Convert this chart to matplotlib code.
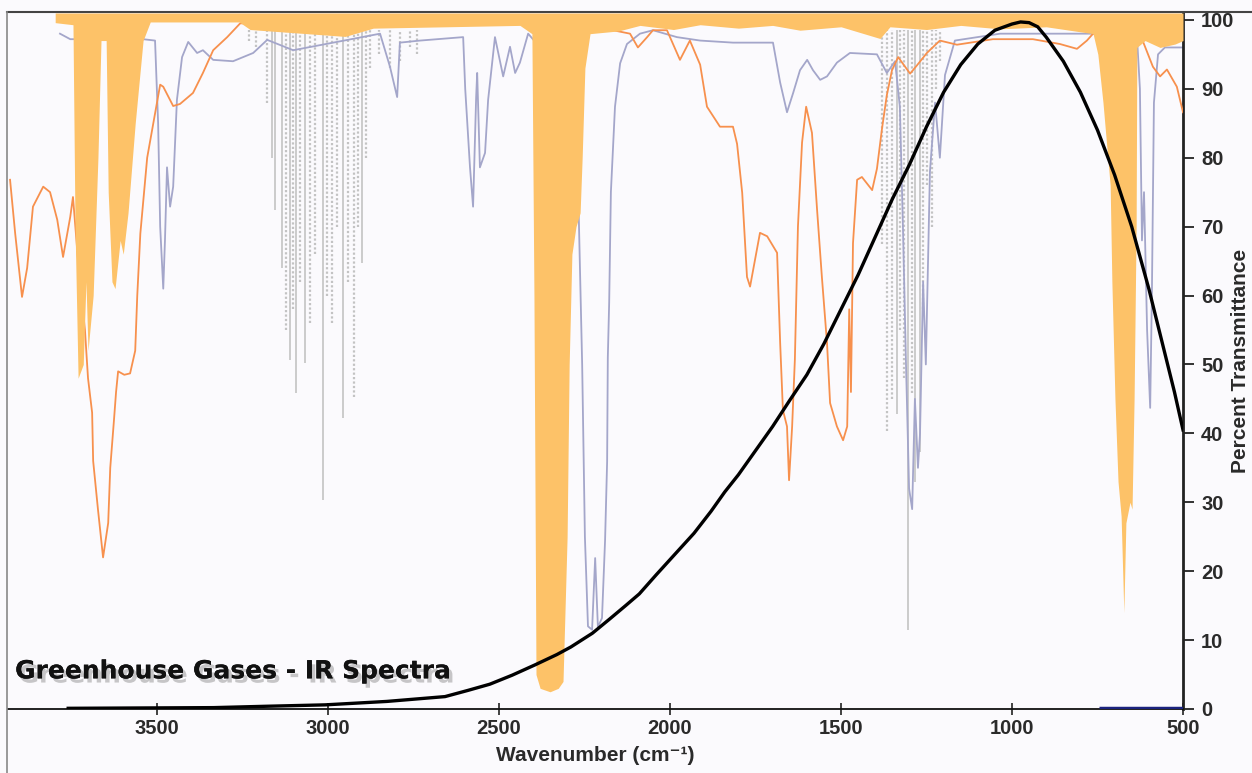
import matplotlib
matplotlib.use("Agg")
import matplotlib.pyplot as plt
import matplotlib.patheffects as pe
from matplotlib.lines import Line2D

# wavenumber (cm-1) / percent transmittance
co2_wn = [3798, 3746, 3740, 3731, 3716, 3708, 3702, 3687, 3673, 3664, 3649, 3643, 3632, 3623,
          3608, 3599, 3585, 3564, 3541, 3520, 3260, 3228, 2950, 2868, 2439, 2404, 2398, 2392,
          2380, 2351, 2327, 2313, 2301, 2295, 2287, 2275, 2263, 2257, 2249, 2234, 2150, 2088,
          1990, 1912, 1800, 1700, 1620, 1500, 1386, 1357, 1250, 1150, 1035, 900, 763, 749, 734,
          713, 708, 699, 690, 681, 673, 667, 655, 649, 643, 637, 635, 611, 567, 523, 500]
co2_t = [99.6, 99.3, 70, 48, 50, 62, 52, 60, 80, 97, 97, 75, 62, 61,
         68, 66, 72, 85, 97, 99.7, 99.7, 98.6, 97.6, 98.8, 99.2, 98, 60, 5,
         3, 2.5, 3, 4, 25, 50, 66, 70, 72, 80, 93, 98, 98.4, 99.2,
         98.6, 99.3, 98.8, 99.2, 98.5, 99, 97.3, 99, 98.6, 99.2, 98.7, 99, 98, 95, 88,
         76, 62, 45, 33, 28, 14, 27, 30, 29, 45, 70, 96, 97, 96, 96.5, 97]

h2o_wn = [3930, 3915, 3895, 3880, 3863, 3833, 3813, 3792, 3775, 3754, 3746, 3731, 3711, 3702,
          3690, 3687, 3673, 3658, 3643, 3637, 3626, 3620, 3614, 3596, 3579, 3564, 3558, 3549,
          3529, 3491, 3482, 3453, 3433, 3395, 3366, 3336, 3295, 3257, 2234, 2205, 2167, 2117,
          2094, 2067, 2050, 2009, 1971, 1942, 1912, 1892, 1854, 1816, 1804, 1789, 1775, 1766,
          1737, 1716, 1687, 1678, 1670, 1658, 1652, 1643, 1635, 1626, 1614, 1602, 1585, 1570,
          1556, 1541, 1532, 1512, 1494, 1482, 1476, 1471, 1465, 1453, 1439, 1409, 1395, 1380,
          1366, 1351, 1333, 1298, 1278, 1249, 1211, 1161, 1056, 939, 860, 810, 781, 763, 626,
          588, 567, 547, 518, 500]
h2o_t = [76.8, 69, 59.8, 64, 72.9, 75.8, 75, 71, 65.6, 71.4, 74.3, 65, 55, 48,
         43, 36, 29, 22, 27, 35, 42, 46, 49, 48.5, 48.7, 52, 60, 69,
         80, 90.6, 90.3, 87.5, 87.8, 89.4, 92.3, 95.6, 97.5, 99.5, 99.5, 99, 98.5, 98,
         96, 97.5, 98.5, 98.5, 94.2, 97, 93.5, 87.4, 84.5, 84.5, 82, 74.9, 62.7, 61.3,
         69.1, 68.6, 66.2, 53.1, 43.4, 41, 33.2, 41, 50.7, 70, 82.2, 87.4, 83.6, 72.4,
         62.7, 53.1, 44.4, 41, 39, 41, 58, 46, 67.6, 76.8, 77.2, 75.3, 78.4, 84.3,
         89.1, 92.7, 94.6, 92.2, 93.4, 95.2, 97, 96.4, 97.2, 97.2, 96.5, 95.8, 97, 98, 98,
         93.2, 91.8, 92.8, 90.3, 86.6]

n2o_wn = [3784, 3754, 3541, 3506, 3497, 3491, 3482, 3477, 3471, 3462, 3453, 3442, 3427, 3409,
          3383, 3366, 3336, 3278, 3219, 3178, 3102, 2985, 2848, 2819, 2798, 2790, 2731, 2605,
          2599, 2585, 2576, 2567, 2564, 2556, 2541, 2532, 2512, 2488, 2468, 2453, 2439, 2415,
          2380, 2292, 2269, 2257, 2249, 2240, 2228, 2219, 2211, 2199, 2190, 2184, 2182, 2178,
          2173, 2161, 2146, 2126, 2088, 2050, 1980, 1912, 1816, 1699, 1678, 1658, 1640, 1620,
          1599, 1582, 1561, 1541, 1512, 1474, 1395, 1366, 1342, 1328, 1319, 1310, 1301, 1292,
          1284, 1275, 1269, 1260, 1252, 1240, 1225, 1211, 1196, 1167, 1035, 763, 634, 626,
          620, 614, 605, 596, 591, 585, 573, 553, 500]
n2o_t = [98, 97.2, 97.2, 97, 85, 70, 61, 68, 78.6, 72.9, 75.8, 88.4, 94.6, 96.8,
         95.2, 95.6, 94.2, 94, 95.2, 97.1, 95.6, 96.7, 98, 93.2, 88.8, 96.7, 97, 97.5,
         90, 78.6, 72.9, 88.8, 92.3, 78.6, 80.7, 88.4, 97.5, 91.8, 96.1, 92.3, 93.8, 98,
         96, 85, 76, 50, 25, 12, 11.5, 21.9, 11.9, 13.2, 24.5, 35.9, 51, 59,
         75, 87.4, 93.7, 96.5, 98, 98.5, 97.5, 97, 96.7, 96.7, 90.9, 86.6, 89.4, 92.7,
         94.2, 92.7, 91.3, 91.8, 93.8, 95.2, 95, 92.3, 94, 87.4, 70, 50, 32, 29,
         45, 35, 40, 62, 50, 78, 88, 80, 92, 97, 98, 98, 97, 90,
         68, 75, 55, 43.7, 60, 88, 95, 96, 96]

# methane rotational lines: position, depth, dotted or not
ch4_wn = [3230, 3210, 3178, 3164, 3155, 3135, 3123, 3111, 3102, 3094, 3082, 3067, 3053, 3038,
          3015, 3003, 2988, 2974, 2956, 2942, 2924, 2912, 2901, 2889, 2877, 2850, 2820, 2790,
          2760, 2740, 1380, 1366, 1351, 1336, 1328, 1316, 1304, 1292, 1284, 1269, 1260, 1249,
          1234, 1222, 1211]
ch4_t = [97, 96, 88, 80, 72.4, 64, 55, 50.6, 58, 45.9, 62, 50.2, 56, 66,
         30.3, 60, 56, 70, 42.2, 62, 45.3, 70, 64.7, 80, 93, 95, 93, 94,
         96, 95, 67.5, 40.3, 45, 42.8, 55, 48, 11.5, 45.9, 33, 37.3, 58, 76,
         70, 90, 94]
ch4_dotted = [1, 1, 1, 0, 0, 0, 1, 0, 1, 0, 1, 0, 1, 1,
              0, 1, 1, 1, 0, 1, 1, 1, 0, 1, 1, 1, 1, 1,
              1, 1, 1, 1, 1, 0, 1, 1, 0, 1, 0, 0, 1, 1,
              1, 1, 1]

# blackbody curve
bb_wn = [3760, 3335, 3178, 3009, 2828, 2658, 2591, 2527, 2462, 2395, 2331, 2290, 2227, 2178,
         2130, 2090, 2040, 1985, 1930, 1880, 1840, 1800, 1750, 1700, 1650, 1600, 1550, 1500,
         1450, 1400, 1350, 1300, 1250, 1200, 1150, 1100, 1050, 1000, 975, 950, 925, 900,
         850, 800, 750, 700, 650, 600, 575, 550, 525, 500]
bb_t = [0.1, 0.2, 0.4, 0.6, 1.1, 1.8, 2.7, 3.6, 4.9, 6.4, 7.9, 9, 11, 13,
        15, 16.7, 19.5, 22.5, 25.5, 28.7, 31.5, 34, 37.5, 41, 44.8, 48.5, 53, 58,
        63, 68.5, 74, 79, 84.5, 89.5, 93.5, 96.5, 98.5, 99.4, 99.7, 99.6, 99, 97.5,
        94, 89.5, 84, 77.5, 70, 61, 56, 51, 46, 40.5]

base_wn = [745, 500]
base_t = [0.15, 0.15]

xticks = [3500, 3000, 2500, 2000, 1500, 1000, 500]
yticks = list(range(0, 101, 10))

bg = "#fbfafd"
fig = plt.figure(figsize=(12.52, 7.73), dpi=100, facecolor=bg)
ax = fig.add_axes([8 / 1252, 64 / 773, 1175 / 1252, 696 / 773])
ax.set_facecolor(bg)

for w, t, d in zip(ch4_wn, ch4_t, ch4_dotted):
    ax.vlines(w, t, 98.5, colors="#c3c3c3", linewidth=1.6 if d else 1.2,
              linestyles=(0, (1, 1)) if d else "solid", zorder=1)
ax.plot(n2o_wn, n2o_t, color="#a4a6ca", lw=1.3, zorder=2)
ax.plot(h2o_wn, h2o_t, color="#f7904d", lw=1.3, zorder=3)
ax.fill_between(co2_wn, co2_t, 101, color="#fdc268", lw=0, zorder=4)
ax.plot(base_wn, base_t, color="#1a237e", lw=2.5, zorder=5, solid_capstyle="butt")
ax.plot(bb_wn, bb_t, color="black", lw=2.4, zorder=6, solid_joinstyle="round")

ax.set_xlim(3936, 500)
ax.set_ylim(0, 101)

for s in ["left", "top"]:
    ax.spines[s].set_visible(False)
ax.spines["bottom"].set_color("#111111")
ax.spines["bottom"].set_linewidth(1.3)
ax.spines["right"].set_color("#222222")
ax.spines["right"].set_linewidth(2.0)

ax.set_xticks(xticks)
ax.set_yticks(yticks)
ax.yaxis.tick_right()
ax.tick_params(axis="x", direction="inout", length=8, width=1.2, colors="#222222", pad=3)
ax.tick_params(axis="y", direction="out", length=8, width=1.3, colors="#222222", pad=5)
for lab in ax.get_xticklabels() + ax.get_yticklabels():
    lab.set_fontfamily("Liberation Sans")
    lab.set_fontweight("bold")
    lab.set_fontsize(14.5)
    lab.set_color("#2a2a2a")

ax.set_xlabel("Wavenumber (cm⁻¹)", family=["Liberation Sans", "DejaVu Sans"],
              fontweight="bold", fontsize=15, color="#2a2a2a", labelpad=6)
ax.text(1.049, 0.5, "Percent Transmittance", transform=ax.transAxes, rotation=90,
        ha="center", va="center", family="Liberation Sans", fontweight="bold",
        fontsize=15, color="#2a2a2a")

ax.text(0.006, 0.044, "Greenhouse Gases - IR Spectra", transform=ax.transAxes,
        family="DejaVu Sans", fontweight="bold", fontsize=18, color="#111111",
        va="baseline", ha="left", zorder=7,
        path_effects=[pe.withSimplePatchShadow(offset=(2.5, -3), shadow_rgbFace="#777777",
                                               alpha=0.4), pe.Normal()])

# frame lines along top and left of the picture
fig.add_artist(Line2D([7 / 1252, 1], [761 / 773, 761 / 773], color="#444444", lw=1.5))
fig.add_artist(Line2D([7 / 1252, 7 / 1252], [0, 761 / 773], color="#888888", lw=1.2))

fig.savefig("out.png", dpi=100, facecolor=bg)
